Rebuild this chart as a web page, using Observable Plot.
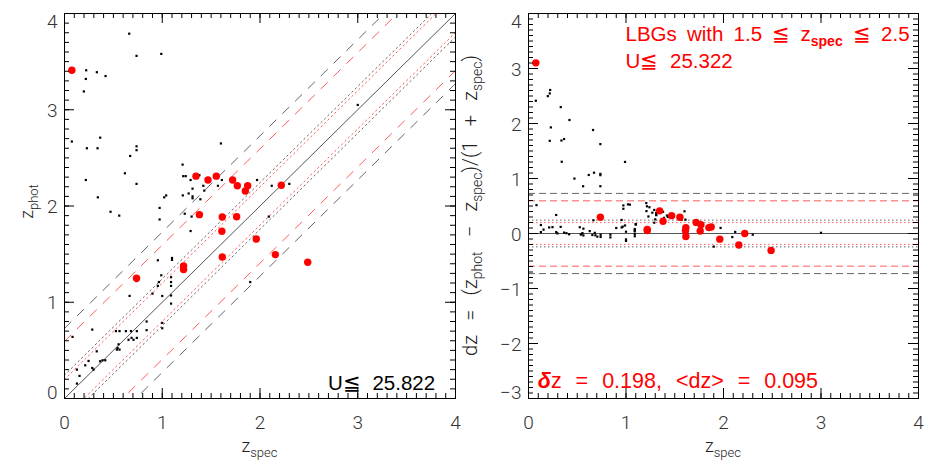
<!DOCTYPE html>
<html><head><meta charset="utf-8">
<script src="https://cdn.jsdelivr.net/npm/d3@7"></script>
<script src="https://cdn.jsdelivr.net/npm/@observablehq/plot@0.6"></script>
<style>
body{margin:0;background:#fff}
#wrap{display:flex;width:926px;height:463px}
svg{display:block}
</style></head><body><div id="wrap"></div>
<script>
// ---------- data ----------
const blackZspec = [0.662,0.737,0.99,0.222,0.331,0.218,0.42,0.198,
  0.075,0.365,0.229,0.338,0.737,0.737,0.672,0.618,0.218,0.737,0.341,0.471,0.56,
  0.973,0.973,1.02,1.04,
  1.208,1.215,1.24,1.29,1.31,1.21,1.27,1.31,1.31,1.42,1.43,1.39,1.23,1.30,1.29,1.38,1.60,1.61,1.57,
  1.97,2.12,2.30,2.09,1.90,3.0,
  0.955,1.10,1.10,0.99,0.966,0.955,1.09,1.09,1.09,0.90,1.0,1.09,1.09,0.84,0.84,1.0,1.0,0.666,0.737,
  0.284,0.082,0.526,0.563,0.628,0.68,0.74,
  0.686,0.655,0.706,0.74,0.553,0.543,0.563,0.536,0.33,0.365,0.389,0.417,0.212,0.246,0.284,0.297,0.127,0.154,0.127];
const blackZphot = [3.79,3.56,3.58,3.41,3.39,3.32,3.35,3.19,
  2.67,2.71,2.60,2.60,2.62,2.58,2.52,2.34,2.27,2.23,2.09,1.94,1.90,
  1.98,1.86,2.09,2.11,
  2.43,2.31,2.31,2.27,2.18,2.11,2.13,2.10,2.08,2.21,2.16,2.07,1.92,1.89,1.74,2.32,2.65,2.27,2.21,
  2.27,2.21,2.23,1.89,1.21,3.05,
  1.436,1.44,1.46,1.28,1.21,1.17,1.26,1.21,1.17,1.09,1.065,1.07,0.986,0.80,0.71,0.785,0.73,1.066,1.22,
  0.716,0.64,0.70,0.70,0.70,0.70,0.70,
  0.63,0.61,0.61,0.63,0.563,0.525,0.508,0.508,0.49,0.387,0.397,0.397,0.345,0.39,0.317,0.30,0.30,0.235,0.155];
const redZspec = [0.075,0.737,1.218,1.218,1.345,1.38,1.468,1.553,1.614,1.61,1.614,1.72,1.768,1.761,1.85,1.874,1.962,2.157,2.218,2.488];
const redZphot = [3.41,1.25,1.377,1.34,2.31,1.91,2.27,2.31,1.886,1.737,1.47,2.27,2.21,1.889,2.156,2.21,1.657,1.495,2.215,1.415];
const sigmaAll = 0.243;   // scatter, all galaxies
const sigmaLBG = 0.198;   // scatter, LBGs
const xTicks = [0,1,2,3,4];
const yTicksLeft = [0,1,2,3,4];
const yTicksRight = [-3,-2,-1,0,1,2,3,4];

const toRows = (xs, ys) => xs.map((x,i)=>({zspec:x, zphot:ys[i], dz:(ys[i]-x)/(1+x)}));
const black = toRows(blackZspec, blackZphot);
const red = toRows(redZspec, redZphot);

const GRAY = "#666", RED = "#ff5a5a";
const bands = [
  {c: 3*sigmaAll, stroke: GRAY, kind: "dash"},
  {c: 3*sigmaLBG, stroke: RED, kind: "dash"},
  {c: sigmaAll, stroke: GRAY, kind: "dot"},
  {c: sigmaLBG, stroke: RED, kind: "dot"}
];

const TICKFONT = {fontFamily: "Roboto, 'Liberation Sans', sans-serif", fontWeight: 300, fontSize: 19, fill: "#333"};
const fmt = d => d < 0 ? "\u2212" + (-d) : String(d);

function frameMarks(w, h, yDomain, yTicks) {
  const minorX = d3.range(0, 41).map(i => i/10);
  const minorY = d3.range(Math.round(yDomain[0]*10), Math.round(yDomain[1]*10)+1).map(i => i/10);
  const inner = yTicks.slice(1, -1);
  return [
    Plot.tickX(minorX, {x: d=>d, insetTop: h-5, stroke:"#000"}),
    Plot.tickX(minorX, {x: d=>d, insetBottom: h-5, stroke:"#000"}),
    Plot.tickX(xTicks, {x: d=>d, insetTop: h-10, stroke:"#000"}),
    Plot.tickX(xTicks, {x: d=>d, insetBottom: h-10, stroke:"#000"}),
    Plot.tickY(minorY, {y: d=>d, insetRight: w-5, stroke:"#000"}),
    Plot.tickY(minorY, {y: d=>d, insetLeft: w-5, stroke:"#000"}),
    Plot.tickY(yTicks, {y: d=>d, insetRight: w-10, stroke:"#000"}),
    Plot.tickY(yTicks, {y: d=>d, insetLeft: w-10, stroke:"#000"}),
    Plot.frame({stroke: "#000"}),
    Plot.text(xTicks, {x: d=>d, frameAnchor: "bottom", lineAnchor: "top", dy: 17, text: fmt, ...TICKFONT}),
    Plot.text(inner, {y: d=>d, frameAnchor: "left", textAnchor: "end", dx: -7, dy: 1, text: fmt, ...TICKFONT}),
    Plot.text([yTicks[0]], {y: d=>d, frameAnchor: "left", textAnchor: "end", dx: -7, dy: -6, text: fmt, ...TICKFONT}),
    Plot.text([yTicks[yTicks.length-1]], {y: d=>d, frameAnchor: "left", textAnchor: "end", dx: -7, dy: 8, text: fmt, ...TICKFONT})
  ];
}

function rich(svg, o, parts) {
  const t = d3.select(svg).append("text")
    .attr("transform", `translate(${o.x},${o.y})` + (o.rotate ? ` rotate(${o.rotate})` : ""))
    .attr("text-anchor", o.anchor || "start")
    .attr("font-family", o.family)
    .attr("font-size", o.size)
    .attr("font-weight", o.weight || 400)
    .attr("fill", o.fill || "#000")
    .style("word-spacing", (o.ws || 0) + "px")
    .style("white-space", "pre");
  let shift = 0;
  for (const p of parts) {
    const [txt, kind] = typeof p === "string" ? [p, "n"] : p;
    const want = kind.startsWith("sub") ? o.subShift : 0;
    const ts = t.append("tspan").text(txt);
    if (want !== shift) { ts.attr("dy", want - shift); shift = want; }
    if (kind.startsWith("sub")) ts.attr("font-size", o.subSize);
    if (kind === "subb") ts.attr("font-weight", 700);
    if (kind === "bi") ts.attr("font-weight", 700).attr("font-style", "italic");
  }
  return t;
}

const M = {top: 13, bottom: 65, right: 8};
const TITLE = {family: "Roboto, 'Liberation Sans', sans-serif", weight: 300, size: 18, subSize: 13, subShift: 5, fill: "#222"};
const ANNOT = {family: "'Liberation Sans', Arial, sans-serif", size: 20.5, subSize: 14, subShift: 5, ws: 6};
const SP = "\u2002\u2009";

// ---------- left panel ----------
const wL = 463 - 64 - M.right, hL = 463 - M.top - M.bottom;
const left = Plot.plot({
  width: 463, height: 463, marginLeft: 64, marginRight: M.right, marginTop: M.top, marginBottom: M.bottom,
  x: {domain: [0, 4], axis: null},
  y: {domain: [0, 4], axis: null},
  style: {background: "#fff", overflow: "visible"},
  marks: [
    ...bands.flatMap(b => [b.c, -b.c].map(c =>
      Plot.line([0, 4].map(x => ({x, y: x + c})), {x: "x", y: "y", stroke: b.stroke, strokeWidth: 1,
        strokeDasharray: b.kind === "dash" ? "9,9" : "1.5,3.3", clip: true}))),
    Plot.line([0, 4].map(x => ({x, y: x})), {x: "x", y: "y", stroke: "#555", strokeWidth: 1, clip: true}),
    Plot.dot(black, {x: "zspec", y: "zphot", symbol: "square", r: 1.25, fill: "#000", stroke: null}),
    Plot.dot(red, {x: "zspec", y: "zphot", r: 3.7, fill: "#ff0000", stroke: null}),
    ...frameMarks(wL, hL, [0, 4], yTicksLeft)
  ]
});

// ---------- right panel ----------
const wR = 463 - 65 - M.right, hR = hL;
const right = Plot.plot({
  width: 463, height: 463, marginLeft: 65, marginRight: M.right, marginTop: M.top, marginBottom: M.bottom,
  x: {domain: [0, 4], axis: null},
  y: {domain: [-3, 4], axis: null},
  style: {background: "#fff", overflow: "visible"},
  marks: [
    ...bands.flatMap(b => [b.c, -b.c].map(c =>
      Plot.ruleY([c], {stroke: b.stroke, strokeWidth: 1, strokeDasharray: b.kind === "dash" ? "7,4" : "1.5,2.5"}))),
    Plot.ruleY([0], {stroke: "#555", strokeWidth: 1}),
    Plot.dot(black, {x: "zspec", y: "dz", symbol: "square", r: 1.25, fill: "#000", stroke: null}),
    Plot.dot(red, {x: "zspec", y: "dz", r: 3.7, fill: "#ff0000", stroke: null}),
    ...frameMarks(wR, hR, [-3, 4], yTicksRight)
  ]
});

const wrap = document.getElementById("wrap");
wrap.append(left, right);

// titles & annotations
{
  const sx = left.scale("x"), sy = left.scale("y");
  const cx = (sx.range[0] + sx.range[1]) / 2, cy = (sy.range[0] + sy.range[1]) / 2;
  rich(left, {...TITLE, x: cx, y: sy.range[0] + 53.5, anchor: "middle"}, ["z", ["spec", "sub"]]);
  rich(left, {...TITLE, x: sx.range[0] - 31, y: cy - 4, anchor: "middle", rotate: -90}, ["z", ["phot", "sub"]]);
  rich(left, {...ANNOT, x: sx.apply(2.7), y: sy.apply(0.086), fill: "#000"}, ["U\u2266 25.822"]);
}
{
  const sx = right.scale("x"), sy = right.scale("y");
  const cx = (sx.range[0] + sx.range[1]) / 2, cy = (sy.range[0] + sy.range[1]) / 2;
  rich(right, {...TITLE, x: cx, y: sy.range[0] + 53.5, anchor: "middle"}, ["z", ["spec", "sub"]]);
  rich(right, {...TITLE, size: 20, subSize: 14, x: sx.range[0] - 51, y: cy, anchor: "middle", rotate: -90},
    ["dz" + SP + "=" + SP + "(z", ["phot", "sub"], SP + "\u2212" + SP + "z", ["spec", "sub"], ")/(1" + SP + "+" + SP + "z", ["spec", "sub"], ")"]);
  rich(right, {...ANNOT, ws: 4.5, x: sx.apply(1.0), y: sy.apply(3.5), fill: "#ff0000"},
    ["LBGs with 1.5 \u2266 z", ["spec", "subb"], " \u2266 2.5"]);
  rich(right, {...ANNOT, x: sx.apply(1.0), y: sy.apply(3.0), fill: "#ff0000"}, ["U\u2266 25.322"]);
  rich(right, {...ANNOT, size: 21.5, ws: 8, x: sx.apply(0.1), y: sy.apply(-2.81), fill: "#ff0000"},
    [["\u03b4", "bi"], "z = 0.198, <dz> = 0.095"]);
}
</script></body></html>
